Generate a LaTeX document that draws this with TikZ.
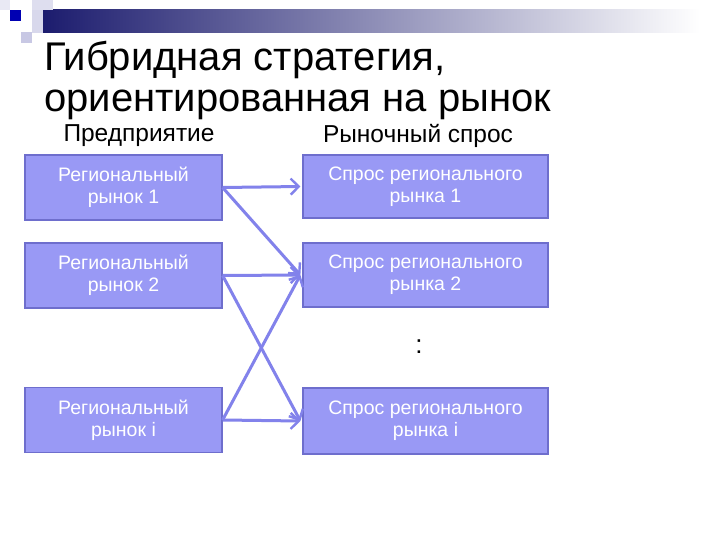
\documentclass[tikz,border=0pt]{standalone}
\usepackage{fontspec}
\setmainfont{Liberation Sans}
\usepackage{tikz}
\usetikzlibrary{arrows.meta,positioning}

\definecolor{boxfill}{RGB}{153,153,245}
\definecolor{boxline}{RGB}{110,110,205}
\definecolor{arrowc}{RGB}{130,130,235}
\definecolor{navy}{RGB}{28,28,110}
\definecolor{lav}{RGB}{200,200,228}

\begin{document}
\begin{tikzpicture}[x=1pt,y=-1pt,
  mkt/.style={rectangle,draw=boxline,fill=boxfill,line width=1.2pt,minimum width=197pt,minimum height=65pt,align=center,text=white,font=\fontsize{19.5}{22}\selectfont},
  dem/.style={mkt,minimum width=245pt},
  hdr/.style={font=\fontsize{24.5}{28}\selectfont},
  ttl/.style={anchor=base west,inner sep=0pt,font=\fontsize{40}{48}\selectfont},
  flow/.style={draw=arrowc,line width=3pt,-{Straight Barb[length=8pt,width=16pt,line width=2.4pt]}}
]
  \useasboundingbox (0,0) rectangle (720,540);
  \fill[white] (0,0) rectangle (720,540);
  % decoration
  \shade[left color=navy,right color=white] (43,10) rectangle (700,33);
  \fill[lav!60] (32,0) rectangle (53,10);
  \fill[lav!70] (32,10) rectangle (43,33);
  \fill[lav] (21,32) rectangle (32,43);
  \fill[lav!40] (0,0) rectangle (10,10);
  \fill[blue!70!black] (10,10) rectangle (21,21);
  % title
  \node[ttl] (t1) at (44,71) {Гибридная стратегия,};
  \node[ttl] (t2) at (44,112) {ориентированная на рынок};
  \node[hdr] (h1) at (139,136) {Предприятие};
  \node[hdr] (h2) at (418,136) {Рыночный спрос};
  % boxes
  \node[mkt] (r1) at (123.5,187.5) {Региональный\\рынок 1};
  \node[mkt] (r2) at (123.5,275.5) {Региональный\\рынок 2};
  \node[mkt] (ri) at (123.5,420) {Региональный\\рынок i};
  \node[dem,minimum height=63pt] (d1) at (425.5,186.5) {Спрос регионального\\рынка 1};
  \node[dem,minimum height=64pt] (d2) at (425.5,275) {Спрос регионального\\рынка 2};
  \node[dem,minimum height=66pt] (di) at (425.5,421) {Спрос регионального\\рынка i};
  \node[font=\fontsize{26}{30}\selectfont] (dots) at (419,347) {:};
  % arrows
  \draw[flow] (r1.east) -- ([xshift=-2pt]d1.west);
  \draw[flow] (r1.east) -- ([xshift=-2pt]d2.west);
  \draw[flow] (r2.east) -- ([xshift=-2pt]d2.west);
  \draw[flow] (r2.east) -- ([xshift=-2pt]di.west);
  \draw[flow] (ri.east) -- ([xshift=-2pt]d2.west);
  \draw[flow] (ri.east) -- ([xshift=-2pt]di.west);
\end{tikzpicture}
\end{document}
